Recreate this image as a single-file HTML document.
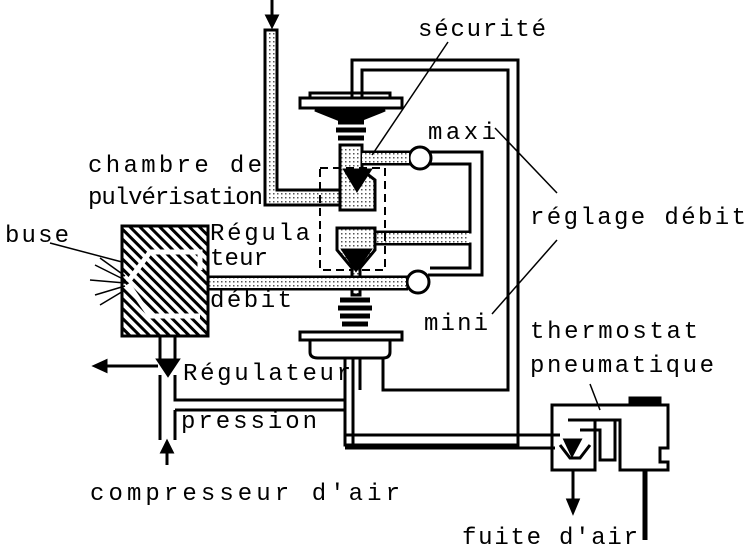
<!DOCTYPE html>
<html><head><meta charset="utf-8"><style>
body{margin:0;background:#fff}
svg{display:block}
text{font-family:"Liberation Mono",monospace;font-size:24px;fill:#000}
</style></head><body>
<svg width="749" height="550" viewBox="0 0 749 550" xmlns="http://www.w3.org/2000/svg">
<defs>
<pattern id="dots" width="4" height="4" patternUnits="userSpaceOnUse"><rect width="4" height="4" fill="#fff"/><rect x="1" y="1" width="1.5" height="1.5" fill="#555"/></pattern>
<pattern id="hatch" width="7" height="7" patternUnits="userSpaceOnUse" patternTransform="rotate(-45)"><rect width="7" height="7" fill="#fff"/><rect width="3" height="7" fill="#000"/></pattern>
</defs>
<g stroke="#000" stroke-width="3" fill="none">
<line x1="272" y1="0" x2="272" y2="22"/>
<path d="M267 16 L272 26 L277 16Z" fill="#000"/>
<path d="M265 30 V205 H345 V190 H277 V30Z" fill="url(#dots)"/>
<path d="M340 145 H362 V170 L375 180 V210 H340 V180 Z" fill="url(#dots)"/>
<path d="M345 170 H370 L357 190Z" fill="#000"/>
<path d="M300 98 H402 V108 H300Z" fill="#fff"/>
<path d="M310 93 H390 V98 H310Z" fill="#fff"/>
<path d="M315 110 H385 L360 120 H340Z" fill="#000"/>
<path d="M338 122 h26 M336 130 h30 M338 138 h26" stroke-width="5"/>
<path d="M352 97 V60 H518 V445 H345 V345"/>
<path d="M362 97 V70 H508 V390 H383 V355"/>
<path d="M362 152 H410 M430 152 H482 V275 H428 M362 164 H410 M430 164 H470 V232 H375 M375 244 H470 V268 H430" />
<circle cx="420" cy="158" r="11" fill="#fff"/>
<circle cx="418" cy="282" r="11" fill="#fff"/>
<rect x="362" y="153" width="47" height="10" fill="url(#dots)" stroke="none"/>
<rect x="374" y="233" width="95" height="10" fill="url(#dots)" stroke="none"/>
<rect x="320" y="168" width="65" height="102" stroke-dasharray="8 5" stroke-width="2"/>
<path d="M337 228 H375 V250 L360 268 V295 H352 V268 L337 250 Z" fill="url(#dots)"/>
<path d="M343 250 H370 L356 270Z" fill="#000"/>
<path d="M128 277 H408 M128 289 H408" />
<rect x="130" y="278" width="276" height="10" fill="url(#dots)" stroke="none"/>
<path d="M340 300 h30 M338 308 h34 M340 316 h30 M342 324 h26" stroke-width="5"/>
<path d="M300 332 H402 V340 H300Z" fill="#fff"/>
<path d="M310 340 H390 V352 Q390 358 383 358 H318 Q310 358 310 352Z" fill="#fff"/>
<path d="M353 358 V445 M360 358 V390"/>
<rect x="122" y="226" width="86" height="110" fill="url(#hatch)"/>
<path d="M128 282 L150 252 H200 V270 M128 284 L150 316 H200" stroke="#fff" stroke-width="5"/>
<path d="M95 265 L125 280 M95 295 L125 286 M90 280 L125 283 M100 258 L125 276 M100 305 L125 290" stroke-width="1.5"/>
<path d="M160 336 V360 M175 336 V360"/>
<path d="M158 360 H178 L168 375Z" fill="#000"/>
<path d="M160 375 V440 M175 375 V400 H345 M175 410 H345 M175 410 V440"/>
<line x1="158" y1="366" x2="100" y2="366"/>
<path d="M106 361 L95 366 L106 371Z" fill="#000"/>
<line x1="167" y1="445" x2="167" y2="465"/>
<path d="M162 452 L167 442 L172 452Z" fill="#000"/>
<path d="M345 435 H560 M345 448 H555" />
<path d="M552 405 H668 V448 H660 V462 H668 V470 H620 V420 H595 V470 H552Z"/>
<path d="M568 420 H615 V460 H600 V430 H580"/>
<path d="M560 445 L570 458 H580 L590 445" />
<path d="M565 440 H580 L572 455Z" fill="#000"/>
<path d="M630 398 H660 V405 H630Z" fill="#000"/>
<line x1="645" y1="470" x2="645" y2="540" stroke-width="5"/>
<line x1="573" y1="470" x2="573" y2="505"/>
<path d="M568 500 L573 512 L578 500Z" fill="#000"/>
<g stroke-width="1.5">
<path d="M448 42 L372 155"/>
<path d="M495 128 L557 193"/>
<path d="M557 240 L492 314"/>
<path d="M590 384 L600 410"/>
<path d="M50 243 L122 262"/>
</g>
</g>
<text x="418" y="36" textLength="128">sécurité</text>
<text x="428" y="139" textLength="68">maxi</text>
<text x="88" y="172" textLength="174">chambre de</text>
<text x="88" y="204" textLength="175">pulvérisation</text>
<text x="530" y="224" textLength="216">réglage débit</text>
<text x="5" y="242" textLength="64">buse</text>
<text x="210" y="240" textLength="100">Régula</text>
<text x="210" y="265" textLength="58">teur</text>
<text x="210" y="307" textLength="82">débit</text>
<text x="424" y="330" textLength="64">mini</text>
<text x="530" y="338" textLength="168">thermostat</text>
<text x="530" y="372" textLength="184">pneumatique</text>
<text x="183" y="380" textLength="168">Régulateur</text>
<text x="181" y="428" textLength="136">pression</text>
<text x="90" y="500" textLength="310">compresseur d'air</text>
<text x="462" y="544" textLength="176">fuite d'air</text>
</svg>
</body></html>
